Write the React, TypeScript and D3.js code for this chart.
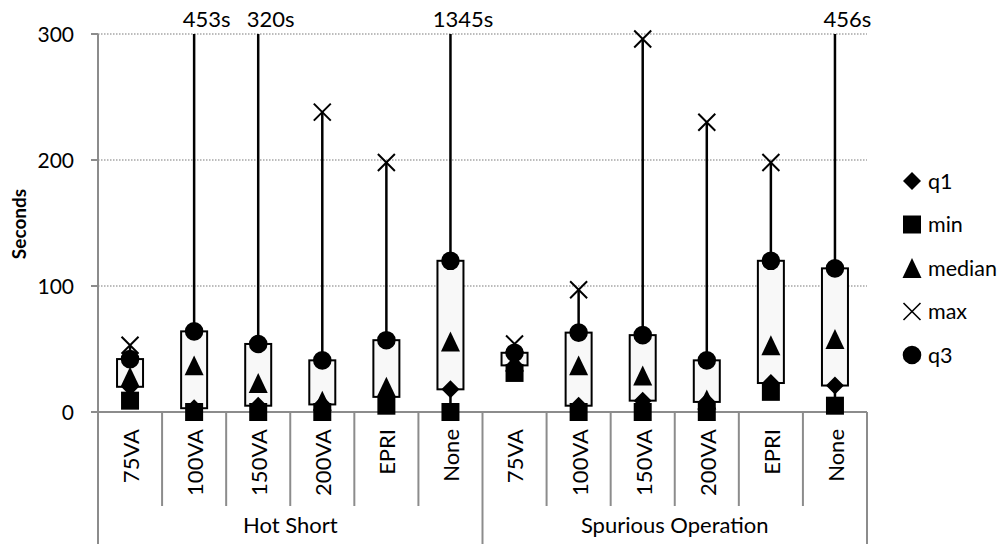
import React from 'react';
import * as d3 from 'd3';

const groups = ['Hot Short', 'Spurious Operation'];
const categories = ['75VA', '100VA', '150VA', '200VA', 'EPRI', 'None'];

const hsMin = [9, 0, 0, 0, 5, 0];
const hsQ1 = [20, 3, 5, 6, 12, 18];
const hsMedian = [28, 37, 23, 9, 20, 56];
const hsQ3 = [42, 64, 54, 41, 57, 120];
const hsMax = [53, 453, 320, 238, 198, 1345];

const soMin = [31, 0, 0, 0, 16, 5];
const soQ1 = [37, 5, 9, 8, 23, 21];
const soMedian = [40, 37, 29, 10, 53, 58];
const soQ3 = [47, 63, 61, 41, 120, 114];
const soMax = [54, 97, 296, 230, 198, 456];

const yTicks = [0, 100, 200, 300];
const legendItems = ['q1', 'min', 'median', 'max', 'q3'];

const FONT = 'Lato, Calibri, sans-serif';

const triangleType = {
  draw(ctx: any, size: number) {
    const w = Math.sqrt(size);
    const h = w * 1.05;
    ctx.moveTo(0, -h / 2);
    ctx.lineTo(w / 2, h / 2);
    ctx.lineTo(-w / 2, h / 2);
    ctx.closePath();
  },
};
const diamondType = {
  draw(ctx: any, size: number) {
    const r = Math.sqrt(size) / 2;
    ctx.moveTo(0, -r);
    ctx.lineTo(r, 0);
    ctx.lineTo(0, r);
    ctx.lineTo(-r, 0);
    ctx.closePath();
  },
};

const symbolPaths: Record<string, string> = {
  q1: d3.symbol(diamondType as any, 18 * 18)() as string,
  min: d3.symbol(d3.symbolSquare, 18 * 18)() as string,
  median: d3.symbol(triangleType as any, 19 * 19)() as string,
  max: d3.symbol(d3.symbolX, 190)() as string,
  q3: d3.symbol(d3.symbolCircle, Math.PI * 9.3 * 9.3)() as string,
};

type Row = { key: string; group: string; cat: string; min: number; q1: number; median: number; q3: number; max: number };

const rows: Row[] = [];
groups.forEach((g, gi) => {
  const src = gi === 0
    ? [hsMin, hsQ1, hsMedian, hsQ3, hsMax]
    : [soMin, soQ1, soMedian, soQ3, soMax];
  categories.forEach((c, i) => {
    rows.push({ key: g + '|' + c, group: g, cat: c, min: src[0][i], q1: src[1][i], median: src[2][i], q3: src[3][i], max: src[4][i] });
  });
});

export default function App() {
  const W = 1002, H = 544;
  const left = 98, right = 867, top = 34, bottom = 412;
  const x = d3.scaleBand<string>().domain(rows.map(r => r.key)).range([left, right]).padding(0);
  const y = d3.scaleLinear().domain([0, 300]).range([bottom, top]);
  const bw = x.bandwidth();
  const boxW = 26;
  const axisColor = '#8c8c8c';

  const groupX = d3.scaleBand<string>().domain(groups).range([left, right]).padding(0);

  return (
    <svg width={W} height={H} style={{ position: 'absolute', left: 0, top: 0, background: '#fff' }} fontFamily={FONT}>
      <rect x={0} y={0} width={W} height={H} fill="#fff" />
      {yTicks.filter(t => t > 0).map(t => (
        <line key={'g' + t} x1={left} x2={right} y1={y(t)} y2={y(t)} stroke="#a6a6a6" strokeWidth={1.3} strokeDasharray="1.5,1.5" />
      ))}
      {yTicks.map(t => (
        <g key={'t' + t}>
          <line x1={left - 7} x2={left} y1={y(t)} y2={y(t)} stroke={axisColor} strokeWidth={2} />
          <text x={74} y={y(t)} dy="0.36em" textAnchor="end" fontSize={21} fill="#000">{t}</text>
        </g>
      ))}
      <text transform={`translate(26,${(top + bottom) / 2 + 1}) rotate(-90)`} textAnchor="middle" fontSize={19} fontWeight="bold" fill="#000">Seconds</text>

      <line x1={left} x2={right} y1={bottom} y2={bottom} stroke={axisColor} strokeWidth={2} />
      <line x1={left} x2={left} y1={top} y2={H} stroke={axisColor} strokeWidth={2} />
      {rows.map((r, i) => {
        const x0 = x(r.key)!;
        const isGroupStart = i % categories.length === 0;
        return isGroupStart ? null : (
          <line key={'sep' + r.key} x1={x0} x2={x0} y1={bottom} y2={506} stroke={axisColor} strokeWidth={2} />
        );
      })}
      {groups.map(g => (
        <line key={'gs' + g} x1={groupX(g)! + groupX.bandwidth()} x2={groupX(g)! + groupX.bandwidth()} y1={bottom} y2={H} stroke={axisColor} strokeWidth={2} />
      ))}
      {rows.map(r => {
        const cx = x(r.key)! + bw / 2;
        return (
          <text key={'cl' + r.key} transform={`translate(${cx + 1},429) rotate(-90)`} dy="0.36em" textAnchor="end" fontSize={22} fill="#000">{r.cat}</text>
        );
      })}
      {groups.map(g => (
        <text key={'gl' + g} x={groupX(g)! + groupX.bandwidth() / 2} y={533} textAnchor="middle" fontSize={22} fill="#000">{g}</text>
      ))}

      {rows.map(r => {
        const cx = x(r.key)! + bw / 2;
        return (
          <g key={'b' + r.key}>
            <line x1={cx} x2={cx} y1={y(r.min)} y2={y(Math.min(r.max, 300))} stroke="#000" strokeWidth={2.5} />
            <rect x={cx - boxW / 2} width={boxW} y={y(r.q3)} height={y(r.q1) - y(r.q3)} fill="#f8f8f8" stroke="#000" strokeWidth={2} />
          </g>
        );
      })}
      {(['q1', 'min', 'median', 'max', 'q3'] as const).map(s => (
        <g key={'m' + s}>
          {rows.filter(r => r[s] <= 300).map(r => {
            const cx = x(r.key)! + bw / 2;
            const isX = s === 'max';
            return (
              <path key={s + r.key} d={symbolPaths[s]} transform={`translate(${cx},${y(r[s])})`}
                fill={isX ? 'none' : '#000'} stroke={isX ? '#000' : 'none'} strokeWidth={isX ? 2 : 0} />
            );
          })}
        </g>
      ))}
      {rows.filter(r => r.max > 300).map(r => {
        const cx = x(r.key)! + bw / 2;
        return (
          <text key={'ol' + r.key} x={cx + 12.5} y={27} textAnchor="middle" fontSize={22} fill="#000">{r.max + 's'}</text>
        );
      })}

      {legendItems.map((s, i) => {
        const ly = 181 + i * 43.5;
        const isX = s === 'max';
        return (
          <g key={'lg' + s}>
            <path d={symbolPaths[s]} transform={`translate(912,${ly})`} fill={isX ? 'none' : '#000'} stroke={isX ? '#000' : 'none'} strokeWidth={isX ? 1.6 : 0} />
            <text x={928} y={ly} dy="0.36em" fontSize={21.5} fill="#000">{s}</text>
          </g>
        );
      })}
    </svg>
  );
}
